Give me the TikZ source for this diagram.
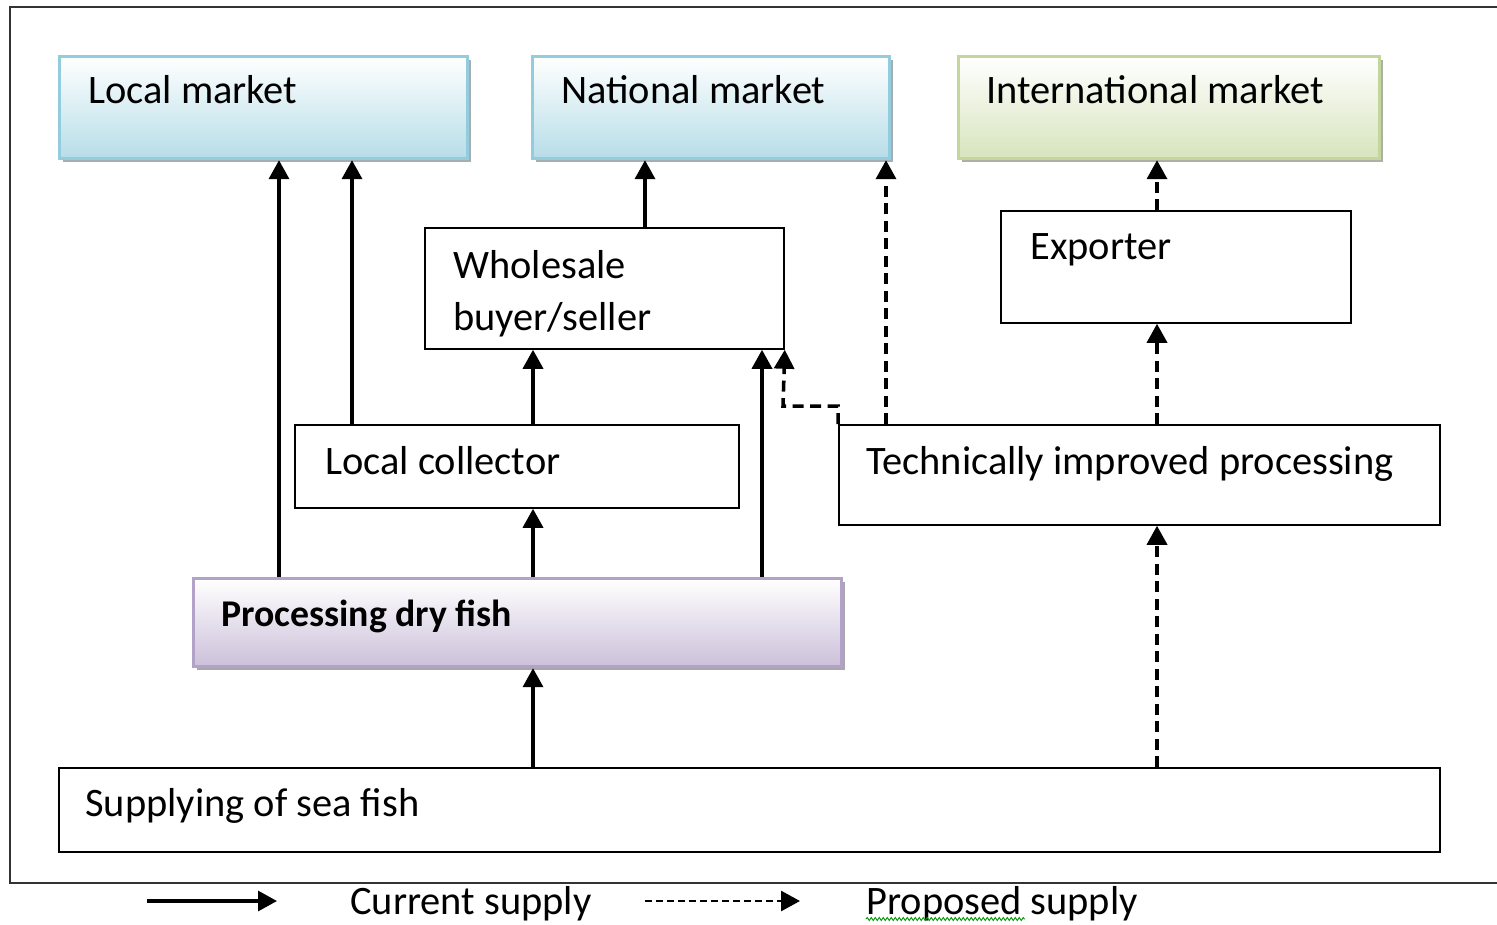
\documentclass[tikz,border=0pt]{standalone}
\usepackage{fontspec}
\setmainfont{Carlito}
\usepackage{tikz}
\usetikzlibrary{
    arrows.meta,
    shadows,
    decorations.pathmorphing
}
\definecolor{mktblue}{HTML}{B7DDE8}
\definecolor{mktblueline}{HTML}{93CDDD}
\definecolor{mktgreen}{HTML}{D7E4BD}
\definecolor{mktgreenline}{HTML}{C3D69B}
\definecolor{drylilac}{HTML}{CCC0DA}
\definecolor{drylilacline}{HTML}{B3A2C7}
\newcommand{\px}{0.02cm}
\tikzset{
    % plain box of the chain, placed by its top left corner
    flowbox/.style={
        draw, rectangle, line width=1pt, anchor=north west, inner sep=0pt
    },
    % shaded box with a drop shadow (markets, processing)
    shadedbox/.style 2 args={
        flowbox, draw=#2, line width=1.8pt,
        top color=white, bottom color=#1,
        drop shadow={shadow xshift=0.07cm, shadow yshift=-0.07cm,
            fill=#1!55!black, opacity=0.6}
    },
    boxtext/.style={
        anchor=base west, inner sep=0pt, font=\fontsize{23}{29.5}\selectfont
    },
    % current and proposed supply
    current/.style={
        line width=2pt, -{Triangle[width=0.4cm,length=0.38cm]}
    },
    proposed/.style={
        current, line width=2pt, dash pattern=on 0.22cm off 0.13cm
    }
}
\begin{document}
\begin{tikzpicture}[x=\px, y=-\px]
    \useasboundingbox (0,0) rectangle (1497,924);
    \draw[line width=1pt, black!80] (1520,7) -| (10,883) -- (1520,883);

    % markets
    \node[shadedbox={mktblue}{mktblueline}, minimum width=408*\px, minimum height=102*\px]
        (local) at (58,55) {};
    \node[shadedbox={mktblue}{mktblueline}, minimum width=357*\px, minimum height=102*\px]
        (national) at (531,55) {};
    \node[shadedbox={mktgreen}{mktgreenline}, minimum width=421*\px, minimum height=102*\px]
        (intl) at (957,55) {};
    % chain
    \node[flowbox, minimum width=359*\px, minimum height=121*\px] (whole) at (424,227) {};
    \node[flowbox, minimum width=350*\px, minimum height=112*\px] (exporter) at (1000,210) {};
    \node[flowbox, minimum width=444*\px, minimum height=83*\px] (collector) at (294,424) {};
    \node[flowbox, minimum width=601*\px, minimum height=100*\px] (tech) at (838,424) {};
    \node[shadedbox={drylilac}{drylilacline}, minimum width=648*\px, minimum height=88*\px]
        (dry) at (192,577) {};
    \node[flowbox, minimum width=1381*\px, minimum height=84*\px] (supply) at (58,767) {};

    % texts
    \node[boxtext] (localT) at (88,103) {Local market};
    \node[boxtext] (nationalT) at (561,103) {National market};
    \node[boxtext] (intlT) at (986,103) {International market};
    \node[boxtext, anchor=north west, align=left] (wholeT) at (453,250) {Wholesale\\buyer/seller};
    \node[boxtext] (exporterT) at (1030,259) {Exporter};
    \node[boxtext] (collectorT) at (325,474) {Local collector};
    \node[boxtext] (techT) at (866,474) {Technically improved processing};
    \node[boxtext, font=\fontsize{21.5}{29.5}\selectfont\bfseries] (dryT) at (221,626) {Processing dry fish};
    \node[boxtext] (supplyT) at (85,816) {Supplying of sea fish};

    % x positions of the arrows
    \coordinate (xa) at (279,0);
    \coordinate (xb) at (352,0);
    \coordinate (xc) at (645,0);
    \coordinate (xd) at (533,0);
    \coordinate (xe) at (762,0);
    \coordinate (xf) at (886,0);
    \coordinate (xg) at (1157,0);
    \coordinate (bend) at (783,406);

    \draw[current] (dry.north -| xa) -- (local.south -| xa);
    \draw[current] (collector.north -| xb) -- (local.south -| xb);
    \draw[current] (whole.north -| xc) -- (national.south -| xc);
    \draw[current] (collector.north -| xd) -- (whole.south -| xd);
    \draw[current] (dry.north -| xd) -- (collector.south -| xd);
    \draw[current] (supply.north -| xd) -- (dry.south -| xd);
    \draw[current] (dry.north -| xe) -- (whole.south -| xe);

    \draw[proposed] (tech.north -| xf) -- (national.south -| xf);
    \draw[proposed] (tech.north west) |- (bend) -- (whole.south east);
    \draw[proposed] (tech.north -| xg) -- (exporter.south -| xg);
    \draw[proposed] (exporter.north -| xg) -- (intl.south -| xg);
    \draw[proposed] (supply.north -| xg) -- (tech.south -| xg);

    % legend
    \coordinate (cur0) at (147,901);
    \coordinate (cur1) at (277,901);
    \coordinate (prop0) at (645,901);
    \coordinate (prop1) at (800,901);
    \draw[current, line width=1.8pt] (cur0) -- (cur1);
    \draw[proposed, line width=1.6pt, dash pattern=on 0.14cm off 0.08cm] (prop0) -- (prop1);
    \node[boxtext] (curT) at (350,914) {Current supply};
    \node[boxtext] (propT) at (866,914) {Proposed supply};
    \draw[green!60!black, line width=0.5pt, decorate,
        decoration={snake, amplitude=0.03cm, segment length=0.08cm}] (866,919) -- (1025,919);
\end{tikzpicture}
\end{document}
